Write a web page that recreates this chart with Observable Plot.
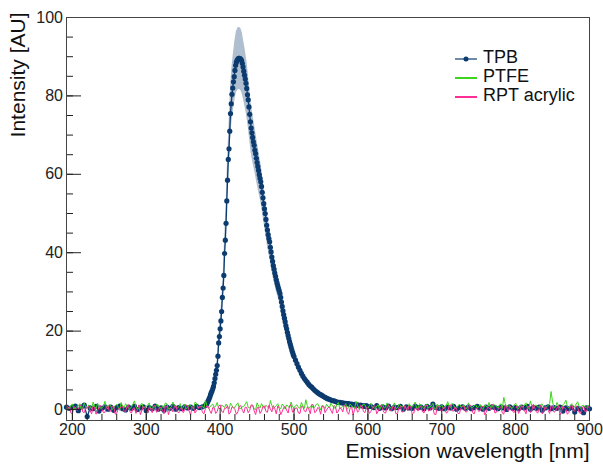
<!DOCTYPE html>
<html><head><meta charset="utf-8">
<script src="https://cdn.jsdelivr.net/npm/d3@7"></script>
<script src="https://cdn.jsdelivr.net/npm/@observablehq/plot@0.6"></script>
<style>
body{margin:0;background:#fff;}
#wrap{position:relative;width:603px;height:466px;font-family:"Liberation Sans",Arial,sans-serif;}
#legend{position:absolute;left:0;top:0;pointer-events:none;}
</style></head><body><div id="wrap"></div>
<script>
// ---- series names / colours ----
const seriesNames = ["TPB", "PTFE", "RPT acrylic"];
const seriesColors = ["#0b3b6f", "#3cd41c", "#ff2e96"];
const bandColor = "#b0bfcf";

// ---- axis ticks ----
const xMajorTicks = [200, 300, 400, 500, 600, 700, 800, 900];
const xMinorTicks = d3.range(200, 901, 20);
const yMajorTicks = [0, 20, 40, 60, 80, 100];
const yMinorTicks = d3.range(0, 101, 5);
const xDomain = [192, 900];
const yDomain = [-2.8, 100];

// ---- TPB emission (wavelength grids in nm, intensities in AU) ----
const tpbWlA = d3.range(192, 380, 4);
const tpbValA = [
  0.6, 0.3, 0.5, 0.9, -0.3, 0.6, 1.1, -1.8, 0.4, 0.2,
  0.8, -0.4, 0.3, 0.7, 0.1, 0.6, -0.2, 0.5, 0.9, 0.2,
  -0.1, 0.6, 0.3, 0.8, 0.0, 0.4, 0.7, -0.3, 0.5, 0.2,
  0.9, 0.1, 0.4, -0.2, 0.6, 0.3, 0.8, 0.1, 0.5, 0.2,
  0.7, 0.4, 0.6, 0.3, 0.8, 0.5, 0.7];
const tpbWlB = d3.range(380, 501, 1);
const tpbValB = [
  1.0, 1.3, 1.5, 1.9, 2.3, 2.7, 3.2, 3.8, 4.3, 4.7,
  5.3, 5.9, 6.8, 7.9, 9.0, 10.0, 11.2, 13.6, 17.0, 18.6,
  20.6, 22.6, 25.0, 28.6, 31.0, 34.2, 39.8, 43.2, 47.5, 53.2,
  58.5, 63.8, 66.5, 71.0, 75.5, 78.0, 80.4, 82.0, 83.6, 84.9,
  86.5, 87.8, 88.6, 89.1, 89.4, 89.6, 89.6, 89.5, 89.3, 89.0,
  88.3, 87.4, 86.3, 85.3, 84.3, 83.2, 81.9, 80.3, 79.0, 77.2,
  75.3, 73.4, 71.8, 70.6, 69.4, 68.3, 67.4, 66.2, 65.3, 64.1,
  63.0, 62.0, 61.0, 59.9, 59.0, 58.1, 56.9, 55.4, 54.0, 52.5,
  51.2, 50.0, 48.5, 47.0, 45.8, 44.6, 43.6, 42.8, 41.4, 40.2,
  38.9, 37.8, 36.7, 35.8, 34.8, 34.0, 33.1, 32.3, 31.6, 30.9,
  30.3, 29.6, 28.6, 27.4, 26.3, 25.2, 24.2, 23.3, 22.4, 21.4,
  20.6, 19.7, 18.9, 18.1, 17.3, 16.6, 15.9, 15.2, 14.6, 14.0,
  13.5];
const tpbWlC = d3.range(502, 601, 2);
const tpbValC = [
  12.6, 11.7, 10.8, 10.0, 9.2, 8.5, 7.9, 7.4, 6.9, 6.4,
  6.0, 5.7, 5.3, 4.9, 4.6, 4.3, 4.0, 3.8, 3.6, 3.3,
  3.1, 2.9, 2.7, 2.6, 2.4, 2.3, 2.2, 2.1, 1.9, 1.8,
  1.8, 1.7, 1.7, 1.6, 1.6, 1.5, 1.5, 1.3, 1.4, 1.2,
  1.3, 1.1, 1.2, 1.0, 1.1, 0.9, 1.0, 0.8, 1.0, 0.7];
const tpbWlD = d3.range(604, 901, 4);
const tpbValD = [
  0.8, 0.5, 1.0, 0.3, 0.7, 0.4, 0.9, 0.2, 0.6, 0.5,
  0.8, 0.1, 0.7, 0.4, 0.3, 0.9, 0.5, 0.6, 0.2, 0.8,
  0.4, 1.4, 0.5, 0.3, 0.7, 0.2, 0.6, 0.4, 0.8, 0.1,
  0.5, 0.7, 0.3, 0.6, 0.2, 0.5, 0.8, 0.4, 0.1, 0.6,
  0.3, 0.7, 0.5, 0.2, 0.6, 0.4, 0.0, 0.7, 0.3, 0.5,
  0.2, 0.6, 0.4, 0.8, 0.1, 0.5, 0.3, 0.6, -0.2, 0.4,
  0.7, 0.2, 0.5, 0.3, 0.6, -0.4, 0.4, 0.2, 0.5, -0.6,
  0.3, 0.1, -0.8, 0.4, 0.2];

// ---- TPB uncertainty band (380–500 nm every 2 nm) ----
const bandWl = d3.range(380, 501, 2);
const bandErr = [
  0.4, 0.4, 0.5, 0.6, 0.7, 0.8, 0.9, 1.1, 1.3, 1.8,
  2.1, 2.5, 3.0, 3.7, 4.3, 5.2, 5.9, 6.6, 7.0, 7.3,
  7.6, 7.8, 7.9, 7.9, 7.9, 7.8, 7.6, 7.4, 7.2, 6.9,
  6.6, 6.3, 6.1, 5.9, 5.7, 5.5, 5.3, 5.1, 4.9, 4.7,
  4.4, 4.2, 4.0, 3.8, 3.6, 3.4, 3.2, 3.0, 2.9, 2.7,
  2.6, 2.5, 2.3, 2.1, 1.9, 1.8, 1.6, 1.5, 1.4, 1.3,
  1.2];

// ---- PTFE and RPT acrylic: even grid (192..900 step 4) and odd grid (194..898 step 4) ----
const noiseWlA = d3.range(192, 901, 4);
const noiseWlB = d3.range(194, 900, 4);
const ptfeValA = [
  0.9, 0.2, 1.4, 0.4, 1.0, -0.1, 1.6, 0.3, 0.8, 1.9,
  0.1, 1.2, 0.5, 2.1, 0.2, 0.9, 0.4, 1.3, -0.2, 0.8,
  1.5, 0.3, 0.7, 2.2, 0.0, 1.1, 0.4, 0.9, 1.7, 0.2,
  0.6, 1.2, -0.1, 0.8, 1.4, 0.3, 1.9, 0.5, 0.7, 0.1,
  1.3, 0.4, 1.0, 0.2, 1.6, 0.6, 0.9, 2.4, 0.3, 1.1,
  0.5, 1.8, 0.2, 0.9, 1.4, 0.1, 1.0, 0.6, 1.7, 0.3,
  0.8, 2.0, 0.4, 1.1, -0.1, 0.9, 1.5, 0.3, 0.7, 2.3,
  0.2, 1.0, 0.5, 1.4, 0.1, 0.8, 1.9, 0.4, 1.2, 0.3,
  0.9, 2.5, 0.2, 1.1, 0.6, 1.5, -0.1, 0.8, 1.3, 0.4,
  1.0, 0.3, 1.8, 0.5, 0.9, 0.1, 1.4, 0.7, 2.1, 0.2,
  0.8, 1.2, 0.3, 1.6, 0.5, 0.9, 0.0, 1.3, 0.6, 1.0,
  0.3, 1.7, 0.4, 1.1, 0.8, 0.2, 1.5, 0.6, 1.9, 0.4,
  1.0, 0.2, 1.3, 0.7, 1.6, 0.1, 0.9, 1.2, 0.4, 2.0,
  0.5, 1.1, 0.3, 1.4, 0.8, 0.2, 1.7, 0.6, 1.0, 0.4,
  1.3, 0.1, 0.9, 1.8, 0.5, 1.1, 0.3, 1.5, 3.1, 0.6,
  1.0, 0.4, 1.6, 0.2, 0.9, 1.3, 0.5, 2.2, 0.3, 1.1,
  0.7, 1.4, 0.2, 1.0, 4.6, 0.5, 1.8, 0.3, 1.2, 2.4,
  0.4, 1.5, 0.8, 2.0, 0.3, 1.1, 0.6, 1.3];
const ptfeValB = [
  0.5, 1.1, 0.2, 0.8, 1.5, 0.4, 0.7, 1.2, 0.1, 0.9,
  1.6, 0.3, 0.8, 0.5, 1.3, 0.0, 1.0, 0.6, 1.8, 0.4,
  0.9, 0.2, 1.4, 0.7, 0.3, 1.6, 0.5, 1.1, 0.2, 0.8,
  1.3, 0.4, 0.9, 1.7, 0.1, 0.7, 1.0, 0.3, 1.5, 0.6,
  0.2, 1.2, 0.5, 1.9, 0.4, 0.8, 0.3, 1.0, 0.6, 1.4,
  0.9, 0.3, 1.1, 0.5, 0.8, 1.6, 0.4, 1.2, 0.2, 0.7,
  1.4, 0.5, 0.9, 0.2, 1.7, 0.4, 0.8, 1.1, 0.3, 1.0,
  0.6, 1.5, 0.2, 0.9, 1.2, 0.4, 0.7, 1.0, 0.5, 1.8,
  0.3, 1.0, 0.7, 0.4, 1.3, 0.8, 1.1, 0.2, 0.9, 1.6,
  0.5, 1.2, 0.3, 0.8, 1.5, 0.4, 0.9, 0.2, 1.1, 0.7,
  1.4, 0.3, 1.0, 0.6, 0.2, 1.2, 0.8, 0.4, 1.7, 0.5,
  0.9, 0.2, 1.3, 0.6, 1.0, 0.4, 0.8, 1.2, 0.3, 1.5,
  0.6, 1.1, 0.4, 0.9, 0.2, 1.4, 0.7, 0.3, 1.0, 0.8,
  1.6, 0.4, 0.9, 0.6, 1.2, 0.3, 1.0, 0.5, 1.3, 0.7,
  0.2, 1.1, 0.6, 0.4, 1.4, 0.8, 1.0, 0.3, 1.5, 0.9,
  0.4, 1.2, 0.7, 1.0, 0.5, 1.7, 0.3, 0.9, 1.1, 0.6,
  1.3, 0.5, 0.8, 1.5, 1.9, 0.6, 1.0, 0.4, 1.6, 0.8,
  1.1, 0.5, 1.4, 0.7, 1.0, 0.6, 0.9];
const rptValA = [
  -0.6, 0.8, -1.1, 0.5, 0.0, 1.1, -0.8, 0.4, -0.3, 0.9,
  -1.2, 0.6, 0.1, -0.7, 1.0, -0.4, 0.7, -1.0, 0.3, 0.8,
  -0.5, 1.2, -0.9, 0.4, 0.0, -1.3, 0.9, -0.2, 0.6, -0.8,
  1.0, -0.4, 0.5, -1.1, 0.7, 0.1, -0.6, 1.1, -0.9, 0.3,
  -0.2, 0.9, -1.4, 0.6, -0.3, 1.0, -0.7, 0.2, 0.8, -1.0,
  0.4, -0.5, 1.2, -0.8, 0.3, -1.2, 0.7, 0.0, -0.6, 1.0,
  -0.9, 0.5, -0.2, 1.1, -1.3, 0.6, -0.4, 0.9, -0.7, 0.2,
  1.0, -1.1, 0.3, -0.5, 0.8, -0.9, 1.2, -0.3, 0.4, -1.0,
  0.7, -0.6, 0.1, 1.3, -0.8, 0.5, -1.2, 0.9, -0.1, 0.6,
  -1.0, 0.8, -0.4, 0.2, 1.1, -0.7, 0.4, -1.4, 0.7, -0.2,
  0.9, -0.8, 0.3, -0.5, 1.0, -1.1, 0.6, 0.0, -0.9, 1.2,
  -0.3, 0.5, -1.0, 0.8, -0.6, 0.2, 1.1, -1.2, 0.4, -0.4,
  0.7, -0.9, 1.0, -0.2, 0.3, -1.3, 0.8, -0.5, 0.6, -0.7,
  1.2, -0.4, 0.1, -1.0, 0.9, -0.6, 0.5, 1.0, -1.1, 0.2,
  -0.3, 0.8, -0.8, 0.4, 1.3, -0.9, 0.0, 0.7, -1.2, 0.5,
  0.9, -0.5, 0.2, -1.0, 1.1, -0.3, 0.6, -0.8, 1.4, -0.6,
  0.3, -1.1, 0.8, -0.2, 1.0, -0.7, 0.4, -1.3, 0.9, 0.1,
  -0.8, 1.2, -0.4, 0.6, -1.0, 0.9, -0.5, 0.3];
const rptValB = [
  0.4, -0.9, 0.7, -0.2, 1.0, -0.6, 0.3, 0.8, -1.1, 0.5,
  -0.3, 1.1, -0.8, 0.6, -0.5, 0.9, -1.2, 0.2, 0.7, -0.4,
  0.8, -0.6, 0.3, -1.0, 1.2, -0.3, 0.5, -0.9, 0.1, 0.9,
  -0.7, 0.6, -0.2, 1.0, -1.3, 0.4, 0.8, -0.5, 0.3, -0.8,
  1.1, -0.4, 0.7, -0.9, 0.2, 0.6, -1.1, 0.9, -0.3, 0.5,
  -1.0, 0.8, -0.4, 0.3, 1.0, -0.7, 0.5, -1.2, 0.9, -0.2,
  0.6, -0.8, 1.2, -0.3, 0.4, -1.0, 0.8, -0.5, 1.1, -0.6,
  0.2, 0.9, -1.3, 0.5, -0.2, 1.0, -0.7, 0.4, -0.9, 0.8,
  -0.4, 0.6, -1.1, 1.2, -0.5, 0.3, 0.8, -0.8, 0.5, -0.3,
  1.0, -0.9, 0.4, -0.6, 0.9, -1.2, 0.7, 0.0, -0.7, 1.1,
  -0.5, 0.6, -1.0, 0.3, 0.8, -0.4, 1.2, -0.8, 0.5, -0.2,
  0.9, -1.1, 0.4, -0.6, 1.0, -0.3, 0.7, -0.9, 0.2, 0.8,
  -0.6, 1.1, -0.4, 0.5, -1.2, 0.8, -0.2, 0.6, -0.9, 1.0,
  -0.3, 0.7, -1.0, 0.4, 0.9, -0.6, 1.1, -0.8, 0.3, -0.5,
  0.8, -1.3, 0.6, -0.1, 1.0, -0.7, 0.4, -0.9, 1.2, -0.4,
  0.5, -0.8, 0.9, -0.3, 0.6, -1.1, 0.8, -0.2, 0.4, -0.9,
  1.1, -0.5, 0.3, -1.0, 0.7, -0.4, 1.0, -0.7, 0.5, -1.2,
  0.6, -0.3, 0.9, -0.8, 0.4, -0.6, 0.8];

// ---- assemble tables ----
const zip = (wl, v) => wl.map((w, i) => ({wl: w, v: v[i]}));
const byWl = (a, b) => a.wl - b.wl;
const tpb = [...zip(tpbWlA, tpbValA), ...zip(tpbWlB, tpbValB), ...zip(tpbWlC, tpbValC), ...zip(tpbWlD, tpbValD)];
const tpbMap = new Map(tpb.map(d => [d.wl, d.v]));
const band = bandWl.map((w, i) => ({wl: w, lo: tpbMap.get(w) - bandErr[i], hi: tpbMap.get(w) + bandErr[i]}));
const ptfe = [...zip(noiseWlA, ptfeValA), ...zip(noiseWlB, ptfeValB)].sort(byWl);
const rpt = [...zip(noiseWlA, rptValA), ...zip(noiseWlB, rptValB)].sort(byWl);

const W = 603, H = 466, mL = 66, mR = 14, mT = 17, mB = 46;
const font = "'Liberation Sans', Arial, Helvetica, sans-serif";

const chart = Plot.plot({
  width: W, height: H,
  marginLeft: mL, marginRight: mR, marginTop: mT, marginBottom: mB,
  style: {fontFamily: font, fontSize: "16px", color: "#222", background: "#fff"},
  x: {domain: xDomain},
  y: {domain: yDomain},
  marks: [
    Plot.areaY(band, {x: "wl", y1: "lo", y2: "hi", fill: bandColor, curve: "linear"}),
    Plot.line(tpb, {x: "wl", y: "v", stroke: seriesColors[0], strokeWidth: 1.3}),
    Plot.dot(tpb, {x: "wl", y: "v", r: 2.6, fill: seriesColors[0], stroke: "none"}),
    Plot.line(ptfe, {x: "wl", y: "v", stroke: seriesColors[1], strokeWidth: 1}),
    Plot.line(rpt, {x: "wl", y: "v", stroke: seriesColors[2], strokeWidth: 1}),
    Plot.axisX({ticks: xMinorTicks, tickSize: -6, tickFormat: () => "", label: null}),
    Plot.axisX({ticks: xMajorTicks, tickSize: -12, tickPadding: 15, tickFormat: d => String(d), label: null, fontSize: 16}),
    Plot.axisY({ticks: yMinorTicks, tickSize: -7, tickFormat: () => "", label: null}),
    Plot.axisY({ticks: yMajorTicks, tickSize: -15, tickPadding: 18.5, tickFormat: d => String(d), label: null, fontSize: 16}),
    Plot.frame({stroke: "#444"}),
    Plot.text(["Emission wavelength [nm]"], {frameAnchor: "bottom-right", textAnchor: "end", dy: 37, fontSize: 21, fill: "#111"}),
    Plot.text(["Intensity [AU]"], {frameAnchor: "top-left", textAnchor: "end", rotate: -90, dx: -56, dy: -5, fontSize: 21, fill: "#111"})
  ]
});

const wrap = document.getElementById("wrap");
wrap.appendChild(chart);

// ---- legend overlay ----
const leg = d3.select(wrap).append("svg").attr("id", "legend").attr("width", W).attr("height", H);
const legX = 455, legY = 59, legStep = 19;
seriesNames.forEach((name, i) => {
  const y = legY + i * legStep;
  leg.append("line").attr("x1", legX).attr("x2", legX + 22).attr("y1", y).attr("y2", y)
    .attr("stroke", seriesColors[i]).attr("stroke-width", i === 0 ? 1.2 : 2);
  if (i === 0) leg.append("circle").attr("cx", legX + 11).attr("cy", y).attr("r", 2.5).attr("fill", seriesColors[0]);
  leg.append("text").attr("x", legX + 28).attr("y", y + 4).attr("font-family", font)
    .attr("font-size", 18).attr("fill", "#111").text(name);
});
</script>
</body></html>
